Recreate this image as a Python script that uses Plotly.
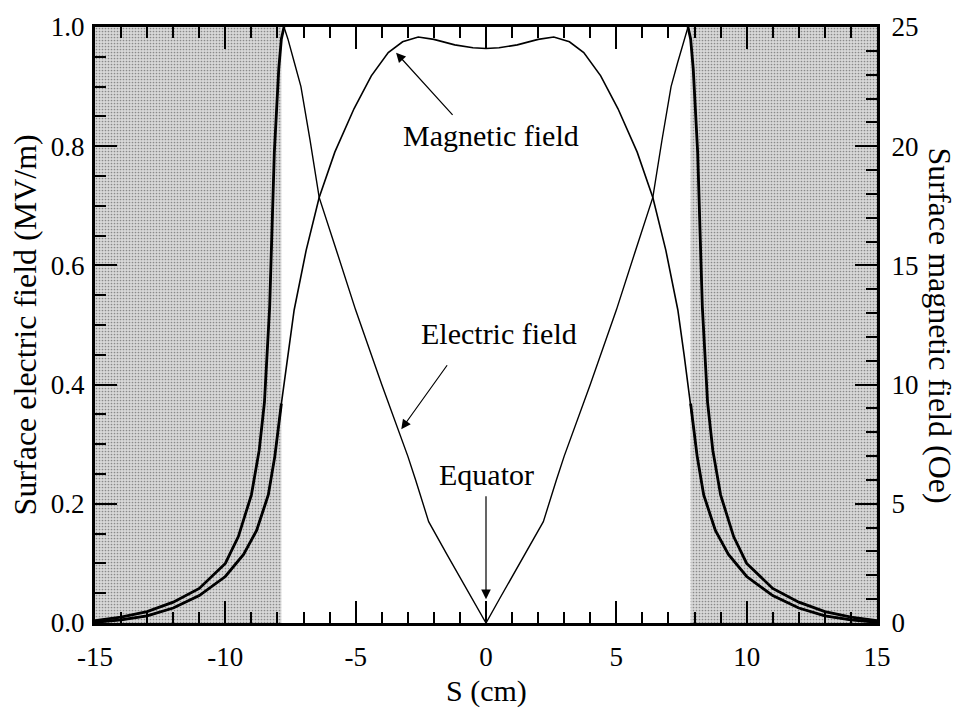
import plotly.graph_objects as go

# ---- data ----
s_e = [-15, -14, -13, -12, -11, -10, -9.5, -9.0, -8.7, -8.5, -8.3, -8.12, -7.95, -7.85, -7.75,
       -7.6, -7.35, -7.1, -6.75, -6.4, -5.7, -5.0, -4.0, -3.0, -2.7, -2.2, -1.5, -1.0, -0.5, 0,
       0.5, 1.0, 1.5, 2.2, 2.7, 3.0, 4.0, 5.0, 5.7, 6.4, 6.75, 7.1, 7.35, 7.6,
       7.75, 7.85, 7.95, 8.12, 8.3, 8.5, 8.7, 9.0, 9.5, 10, 11, 12, 13, 14, 15]
e_field = [0.004, 0.01, 0.019, 0.035, 0.058, 0.1, 0.145, 0.215, 0.29, 0.37, 0.53, 0.79, 0.93, 0.98, 1.0,
           0.98, 0.94, 0.9, 0.81, 0.714, 0.62, 0.525, 0.4, 0.28, 0.24, 0.17, 0.115, 0.077, 0.039, 0.0,
           0.039, 0.077, 0.115, 0.17, 0.24, 0.28, 0.4, 0.525, 0.62, 0.714, 0.81, 0.9, 0.94, 0.98,
           1.0, 0.98, 0.93, 0.79, 0.53, 0.37, 0.29, 0.215, 0.145, 0.1, 0.058, 0.035, 0.019, 0.01, 0.004]

s_m = [-15, -14, -13, -12, -11, -10, -9.3, -8.8, -8.35, -8.1, -7.85, -7.6, -7.36, -6.9, -6.4, -5.8,
       -5.06, -4.4, -3.75, -3.2, -2.6, -2.0, -1.2, -0.5, 0,
       0.5, 1.2, 2.0, 2.6, 3.2, 3.75, 4.4, 5.06, 5.8, 6.4, 6.9, 7.36, 7.6, 7.85, 8.1, 8.35,
       8.8, 9.3, 10, 11, 12, 13, 14, 15]
h_field = [0.03, 0.13, 0.3, 0.63, 1.15, 1.95, 2.88, 3.88, 5.38, 7.0, 9.2, 11.25, 13.13, 15.63, 17.85, 19.75,
           21.58, 22.95, 23.93, 24.38, 24.58, 24.48, 24.25, 24.13, 24.1,
           24.13, 24.25, 24.48, 24.58, 24.38, 23.93, 22.95, 21.58, 19.75, 17.85, 15.63, 13.13, 11.25, 9.2, 7.0, 5.38,
           3.88, 2.88, 1.95, 1.15, 0.63, 0.3, 0.13, 0.03]

shaded_left = [-15, -7.85]
shaded_right = [7.85, 15]

x_ticks = [-15, -10, -5, 0, 5, 10, 15]
x_ticktext = ["-15", "-10", "-5", "0", "5", "10", "15"]
y_ticks = [0.0, 0.2, 0.4, 0.6, 0.8, 1.0]
y2_ticks = [0, 5, 10, 15, 20, 25]

FONT = "'Liberation Serif', 'Times New Roman', 'DejaVu Serif', serif"

fig = go.Figure()

# shaded (stippled) regions
for lo, hi in (shaded_left, shaded_right):
    fig.add_trace(go.Scatter(x=[lo, hi, hi, lo, lo], y=[0, 0, 1, 1, 0], mode="lines",
                             fill="toself", fillcolor="#d2d2d2", line=dict(width=0),
                             fillpattern=dict(shape=".", size=3, solidity=0.25,
                                              fgcolor="#8a8a8a", bgcolor="#d8d8d8", fillmode="replace"),
                             yaxis="y", showlegend=False, hoverinfo="skip"))

# thin full curves
fig.add_trace(go.Scatter(x=s_e, y=e_field, mode="lines", line=dict(color="black", width=1.4),
                         yaxis="y", showlegend=False, hoverinfo="skip"))
fig.add_trace(go.Scatter(x=s_m, y=h_field, mode="lines", line=dict(color="black", width=1.6),
                         yaxis="y2", showlegend=False, hoverinfo="skip"))

# bolder tails inside the shaded regions
for lo, hi in (shaded_left, shaded_right):
    xe = [x for x in s_e if (lo < 0 and x <= -7.75) or (lo > 0 and x >= 7.75)]
    ye = [e_field[s_e.index(x)] for x in xe]
    fig.add_trace(go.Scatter(x=xe, y=ye, mode="lines", line=dict(color="black", width=2.8),
                             yaxis="y", showlegend=False, hoverinfo="skip"))
    xm = [x for x in s_m if lo <= x <= hi]
    ym = [h_field[s_m.index(x)] for x in xm]
    fig.add_trace(go.Scatter(x=xm, y=ym, mode="lines", line=dict(color="black", width=2.8),
                             yaxis="y2", showlegend=False, hoverinfo="skip"))

tickfont = dict(family=FONT, size=27, color="black")

annotations = [
    # axis titles
    dict(text="Surface electric field (MV/m)", xref="paper", yref="paper", x=-0.089, y=0.5,
         textangle=-90, showarrow=False, font=dict(family=FONT, size=32, color="black"),
         xanchor="center", yanchor="middle"),
    dict(text="Surface magnetic field (Oe)", xref="paper", yref="paper", x=1.08, y=0.5,
         textangle=90, showarrow=False, font=dict(family=FONT, size=32, color="black"),
         xanchor="center", yanchor="middle"),
    dict(text="S (cm)", xref="paper", yref="paper", x=0.5, y=-0.114,
         showarrow=False, font=dict(family=FONT, size=30, color="black"),
         xanchor="center", yanchor="middle"),
    # labels
    dict(text="Magnetic field", xref="x", yref="y", x=0.2, y=0.818, showarrow=False,
         font=dict(family=FONT, size=30, color="black")),
    dict(text="Electric field", xref="x", yref="y", x=0.5, y=0.485, showarrow=False,
         font=dict(family=FONT, size=30, color="black")),
    dict(text="Equator", xref="x", yref="y", x=0.0, y=0.25, showarrow=False,
         font=dict(family=FONT, size=30, color="black")),
    # arrows
    dict(text="", xref="x", yref="y", axref="x", ayref="y", x=-3.45, y=0.957, ax=-1.23, ay=0.85,
         showarrow=True, arrowhead=2, arrowsize=1.6, arrowwidth=1.2, arrowcolor="black", standoff=0),
    dict(text="", xref="x", yref="y", axref="x", ayref="y", x=-3.25, y=0.325, ax=-1.45, ay=0.435,
         showarrow=True, arrowhead=2, arrowsize=1.6, arrowwidth=1.2, arrowcolor="black", standoff=0),
    dict(text="", xref="x", yref="y", axref="x", ayref="y", x=0.0, y=0.04, ax=0.0, ay=0.215,
         showarrow=True, arrowhead=2, arrowsize=1.6, arrowwidth=1.2, arrowcolor="black", standoff=0),
]

fig.update_layout(
    width=957, height=712,
    margin=dict(l=95, r=80, t=17, b=89),
    paper_bgcolor="white", plot_bgcolor="white",
    annotations=annotations,
    xaxis=dict(range=[-15, 15], tickvals=x_ticks, ticktext=x_ticktext, ticks="inside",
               ticklen=22, tickwidth=2, tickcolor="black", showline=True, linewidth=3,
               linecolor="black", mirror="ticks", showgrid=False, zeroline=False,
               tickfont=tickfont, ticklabelstandoff=8, layer="above traces",
               minor=dict(dtick=1, ticks="inside", ticklen=11, tickwidth=2, tickcolor="black",
                          showgrid=False)),
    yaxis=dict(range=[0, 1], tickvals=y_ticks, tickformat=".1f", ticks="inside",
               ticklen=22, tickwidth=2, tickcolor="black", showline=True, linewidth=3,
               linecolor="black", mirror=False, showgrid=False, zeroline=False,
               tickfont=tickfont, ticklabelstandoff=2, layer="above traces",
               minor=dict(dtick=0.05, ticks="inside", ticklen=11, tickwidth=2, tickcolor="black",
                          showgrid=False)),
    yaxis2=dict(range=[0, 25], tickvals=y2_ticks, overlaying="y", side="right", ticks="inside",
                ticklen=22, tickwidth=2, tickcolor="black", showline=True, linewidth=3,
                linecolor="black", showgrid=False, zeroline=False, tickfont=tickfont,
                ticklabelstandoff=6, layer="above traces",
                minor=dict(dtick=1, ticks="inside", ticklen=11, tickwidth=2, tickcolor="black",
                           showgrid=False)),
)

fig.write_html("out.html")
